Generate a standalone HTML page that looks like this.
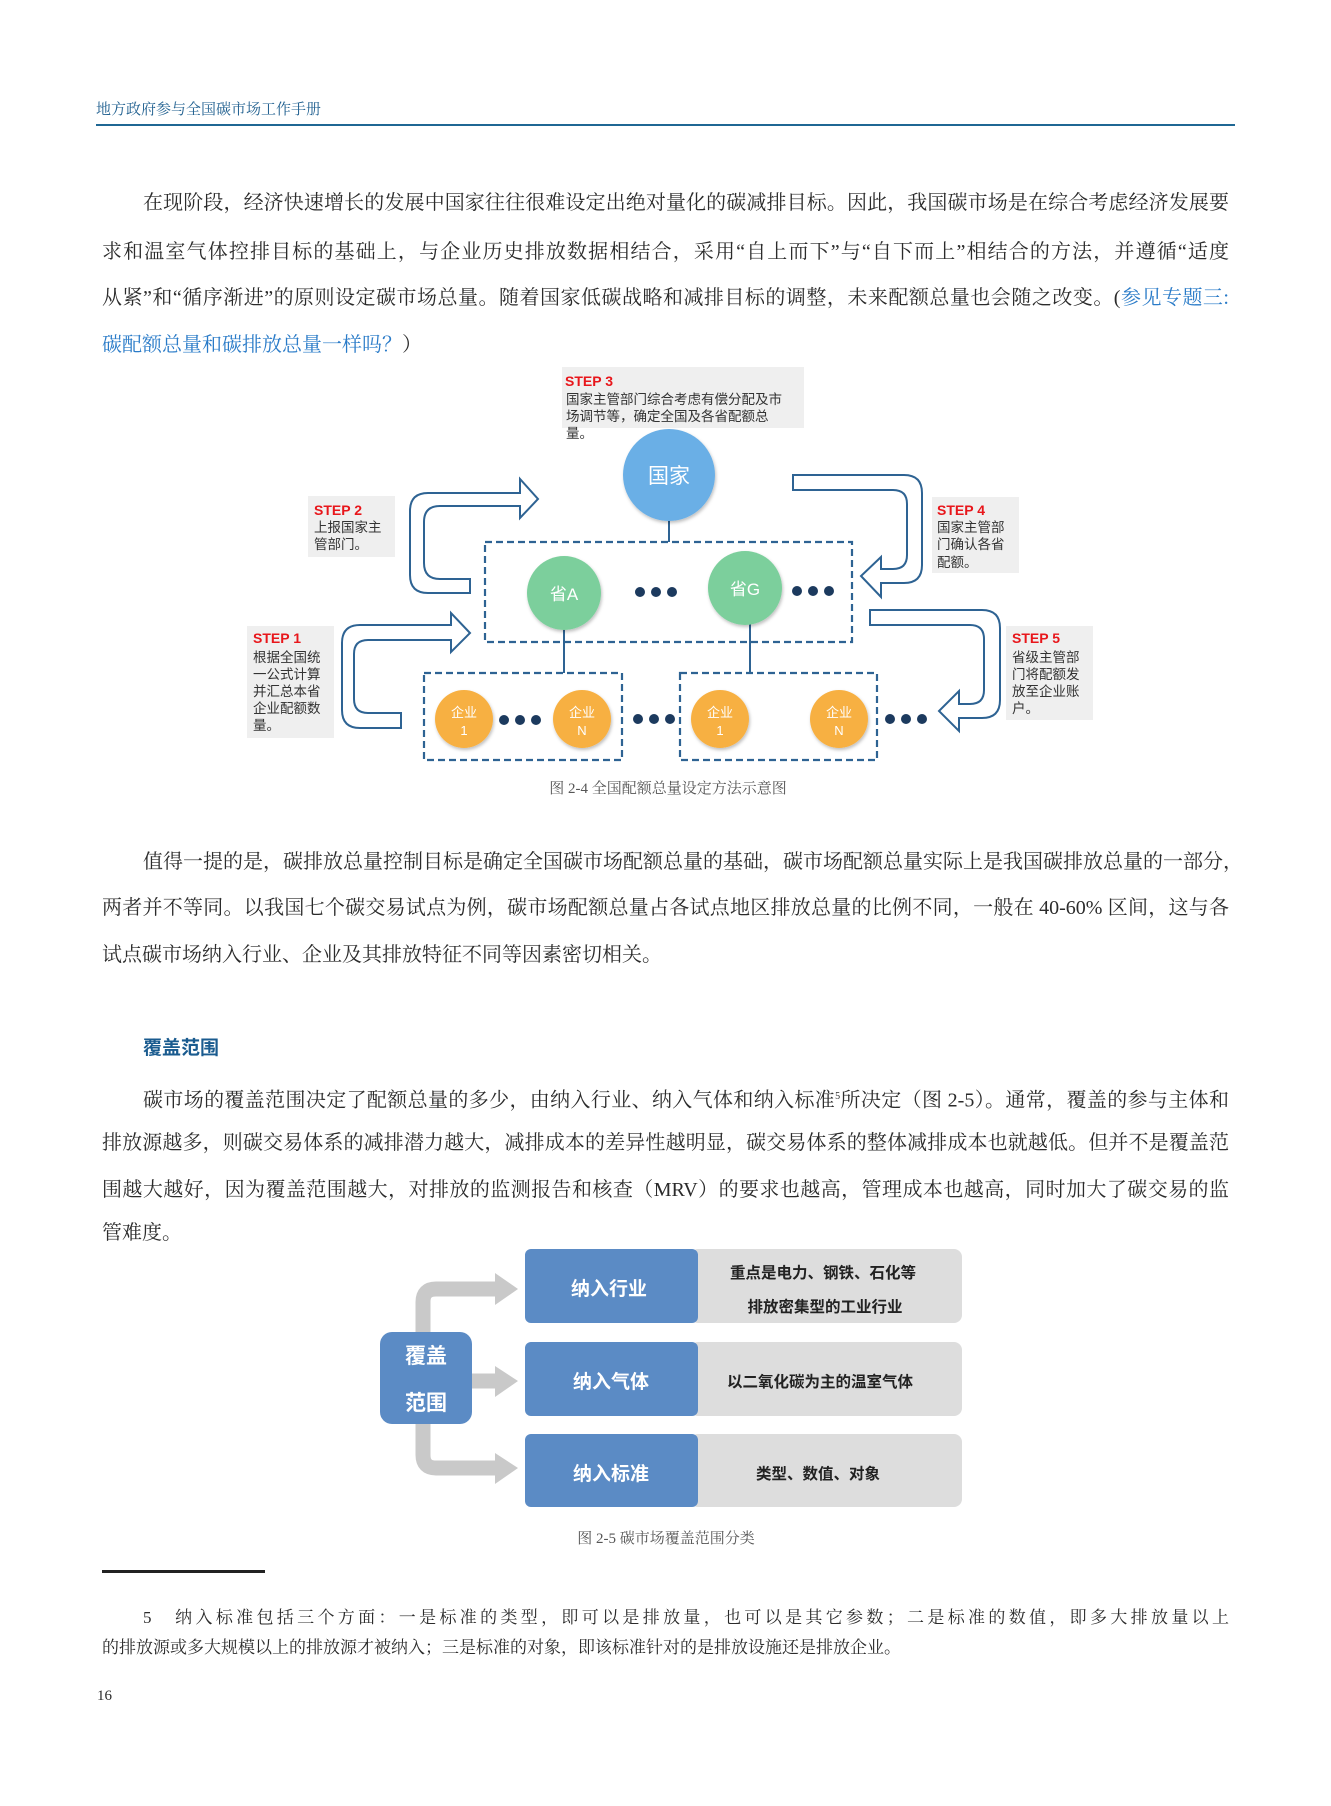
<!DOCTYPE html>
<html><head><meta charset="utf-8">
<style>
html,body{margin:0;padding:0;background:#fff;}
body{width:1331px;height:1806px;position:relative;overflow:hidden;font-family:"Liberation Serif","Noto Serif CJK SC",serif;color:#2b2b2b;}
.l{position:absolute;font-size:20px;line-height:30px;height:30px;text-align:justify;text-align-last:justify;white-space:nowrap;}
.n{text-align:left;text-align-last:left;}
.b{color:#2a7bc8;}
.f{position:absolute;font-size:17px;line-height:26px;height:26px;text-align:justify;text-align-last:justify;white-space:nowrap;}
svg{position:absolute;left:0;top:0;}
</style></head><body>
<div style="position:absolute;left:96px;top:99px;font-size:15px;line-height:22px;color:#1f5f8f;">地方政府参与全国碳市场工作手册</div>
<div style="position:absolute;left:96px;top:124px;width:1139px;height:2px;background:#1f6794;"></div>

<div class="l" style="left:143px;width:1086px;top:188px;">在现阶段，经济快速增长的发展中国家往往很难设定出绝对量化的碳减排目标。因此，我国碳市场是在综合考虑经济发展要</div>
<div class="l" style="left:102px;width:1127px;top:237px;">求和温室气体控排目标的基础上，与企业历史排放数据相结合，采用“自上而下”与“自下而上”相结合的方法，并遵循“适度</div>
<div class="l" style="left:102px;width:1127px;top:283px;">从紧”和“循序渐进”的原则设定碳市场总量。随着国家低碳战略和减排目标的调整，未来配额总量也会随之改变。(<span class="b">参见专题三:</span></div>
<div class="l n" style="left:102px;top:330px;"><span class="b">碳配额总量和碳排放总量一样吗？</span>）</div>

<div class="l" style="left:143px;width:1086px;top:847px;">值得一提的是，碳排放总量控制目标是确定全国碳市场配额总量的基础，碳市场配额总量实际上是我国碳排放总量的一部分，</div>
<div class="l" style="left:102px;width:1127px;top:893px;">两者并不等同。以我国七个碳交易试点为例，碳市场配额总量占各试点地区排放总量的比例不同，一般在 40-60% 区间，这与各</div>
<div class="l n" style="left:102px;top:940px;">试点碳市场纳入行业、企业及其排放特征不同等因素密切相关。</div>

<div style="position:absolute;left:143px;top:1036px;font-size:19px;line-height:26px;font-weight:bold;color:#1a5b8f;font-family:'Liberation Sans','Noto Sans CJK SC',sans-serif;">覆盖范围</div>

<div class="l" style="left:143px;width:1086px;top:1082px;">碳市场的覆盖范围决定了配额总量的多少，由纳入行业、纳入气体和纳入标准<sup style="font-size:10px;">5</sup>所决定（图 2-5）。通常，覆盖的参与主体和</div>
<div class="l" style="left:102px;width:1127px;top:1128px;">排放源越多，则碳交易体系的减排潜力越大，减排成本的差异性越明显，碳交易体系的整体减排成本也就越低。但并不是覆盖范</div>
<div class="l" style="left:102px;width:1127px;top:1175px;">围越大越好，因为覆盖范围越大，对排放的监测报告和核查（MRV）的要求也越高，管理成本也越高，同时加大了碳交易的监</div>
<div class="l n" style="left:102px;top:1218px;">管难度。</div>

<div style="position:absolute;left:102px;top:1570px;width:163px;height:3px;background:#222;"></div>
<div class="f" style="left:143px;width:1086px;top:1605px;">5　纳入标准包括三个方面：一是标准的类型，即可以是排放量，也可以是其它参数；二是标准的数值，即多大排放量以上</div>
<div class="f n" style="left:102px;top:1635px;">的排放源或多大规模以上的排放源才被纳入；三是标准的对象，即该标准针对的是排放设施还是排放企业。</div>
<div style="position:absolute;left:97px;top:1686px;font-size:15px;line-height:20px;">16</div>

<svg width="1331" height="1806" viewBox="0 0 1331 1806" font-family="'Liberation Sans','Noto Sans CJK SC',sans-serif">
<defs><filter id="sh" x="-20%" y="-20%" width="140%" height="140%"><feDropShadow dx="1" dy="2" stdDeviation="1.5" flood-color="#000" flood-opacity="0.25"/></filter></defs>
<rect x="562" y="367" width="242" height="61" fill="#efefef"/>
<rect x="308" y="496" width="87" height="61" fill="#efefef"/>
<rect x="932" y="497" width="87" height="76" fill="#efefef"/>
<rect x="247" y="626" width="87" height="112" fill="#efefef"/>
<rect x="1006" y="626" width="87" height="94" fill="#efefef"/>
<g font-size="14" fill="#e8161b" font-weight="bold">
<text x="565" y="386">STEP 3</text><text x="314" y="515">STEP 2</text><text x="937" y="515">STEP 4</text><text x="253" y="643">STEP 1</text><text x="1012" y="643">STEP 5</text>
</g>
<g font-size="13.5" fill="#333">
<text x="566" y="404">国家主管部门综合考虑有偿分配及市</text>
<text x="566" y="421">场调节等，确定全国及各省配额总</text>
<text x="566" y="438">量。</text>
<text x="314" y="532">上报国家主</text><text x="314" y="549">管部门。</text>
<text x="937" y="532">国家主管部</text><text x="937" y="549">门确认各省</text><text x="937" y="567">配额。</text>
<text x="253" y="662">根据全国统</text><text x="253" y="679">一公式计算</text><text x="253" y="696">并汇总本省</text><text x="253" y="713">企业配额数</text><text x="253" y="730">量。</text>
<text x="1012" y="662">省级主管部</text><text x="1012" y="679">门将配额发</text><text x="1012" y="696">放至企业账</text><text x="1012" y="713">户。</text>
</g>
<g stroke="#2e6393" stroke-width="2" fill="none">
<line x1="669" y1="520" x2="669" y2="542"/>
<line x1="564" y1="628" x2="564" y2="673"/>
<line x1="750" y1="622" x2="750" y2="673"/>
</g>
<g stroke="#2e6393" stroke-width="2.2" fill="none" stroke-dasharray="7,4">
<rect x="485" y="542" width="367" height="100"/>
<rect x="424" y="673" width="198" height="87"/>
<rect x="680" y="673" width="197" height="87"/>
</g>
<g stroke="#2e6393" stroke-width="2" fill="#fff" stroke-linejoin="miter">
<path d="M470,593 L428,593 Q410,593 410,575 L410,511 Q410,493 428,493 L520,493 L520,479 L538,499 L520,518 L520,506 L440,506 Q424,506 424,522 L424,563 Q424,579 440,579 L470,579 Z"/>
<path d="M401,728 L360,728 Q342,728 342,710 L342,643 Q342,625 360,625 L451,625 L451,613 L470,633 L451,652 L451,640 L368,640 Q354,640 354,654 L354,699 Q354,713 368,713 L401,713 Z"/>
<path d="M793,475 L904,475 Q922,475 922,493 L922,565 Q922,583 904,583 L881,583 L881,597 L861,576 L881,557 L881,569 L893,569 Q907,569 907,555 L907,504 Q907,490 893,490 L793,490 Z"/>
<path d="M870,610 L982,610 Q1000,610 1000,628 L1000,700 Q1000,718 982,718 L959,718 L959,731 L939,711 L959,691 L959,704 L970,704 Q984,704 984,690 L984,639 Q984,625 970,625 L870,625 Z"/>
</g>
<g filter="url(#sh)">
<ellipse cx="669" cy="475" rx="46" ry="46" fill="#6aafe6"/>
<circle cx="564" cy="593" r="37" fill="#7ccf9c"/>
<circle cx="745" cy="588" r="37" fill="#7ccf9c"/>
<circle cx="464" cy="719" r="29" fill="#f7b043"/>
<circle cx="582" cy="719" r="29" fill="#f7b043"/>
<circle cx="720" cy="719" r="29" fill="#f7b043"/>
<circle cx="839" cy="719" r="29" fill="#f7b043"/>
</g>
<g fill="#fff" text-anchor="middle">
<text x="669" y="483" font-size="21">国家</text>
<text x="564" y="600" font-size="17">省A</text>
<text x="745" y="595" font-size="17">省G</text>
<g font-size="13"><text x="464" y="717">企业</text><text x="464" y="735">1</text>
<text x="582" y="717">企业</text><text x="582" y="735">N</text>
<text x="720" y="717">企业</text><text x="720" y="735">1</text>
<text x="839" y="717">企业</text><text x="839" y="735">N</text></g>
</g>
<g fill="#1c3a5e">
<circle cx="640" cy="592" r="5"/><circle cx="656" cy="592" r="5"/><circle cx="672" cy="592" r="5"/>
<circle cx="797" cy="591" r="5"/><circle cx="813" cy="591" r="5"/><circle cx="829" cy="591" r="5"/>
<circle cx="504" cy="720" r="5"/><circle cx="520" cy="720" r="5"/><circle cx="536" cy="720" r="5"/>
<circle cx="638" cy="719" r="5"/><circle cx="654" cy="719" r="5"/><circle cx="670" cy="719" r="5"/>
<circle cx="890" cy="719" r="5"/><circle cx="906" cy="719" r="5"/><circle cx="922" cy="719" r="5"/>
</g>
<text x="668" y="793" font-size="15" fill="#555" text-anchor="middle" font-family="'Liberation Serif','Noto Serif CJK SC',serif">图 2-4 全国配额总量设定方法示意图</text>

<g stroke="#c9c9c9" stroke-width="15" fill="none">
<path d="M496,1289 L436,1289 Q423,1289 423,1302 L423,1455 Q423,1468 436,1468 L496,1468"/>
<line x1="470" y1="1381" x2="496" y2="1381"/>
</g>
<g fill="#c9c9c9">
<polygon points="495,1273 518,1289 495,1305"/>
<polygon points="495,1366 518,1381 495,1397"/>
<polygon points="495,1453 518,1468 495,1484"/>
</g>
<rect x="380" y="1332" width="92" height="92" rx="12" fill="#5b8bc5"/>
<g fill="#dddddd">
<rect x="690" y="1249" width="272" height="74" rx="8"/>
<rect x="690" y="1342" width="272" height="74" rx="8"/>
<rect x="690" y="1434" width="272" height="73" rx="8"/>
</g>
<g fill="#5b8bc5">
<rect x="525" y="1249" width="173" height="74" rx="6"/>
<rect x="525" y="1342" width="173" height="74" rx="6"/>
<rect x="525" y="1434" width="173" height="73" rx="6"/>
</g>
<g fill="#fff" font-weight="bold" text-anchor="middle">
<text x="426" y="1363" font-size="21">覆盖</text>
<text x="426" y="1410" font-size="21">范围</text>
<text x="609" y="1295" font-size="19">纳入行业</text>
<text x="611" y="1388" font-size="19">纳入气体</text>
<text x="611" y="1480" font-size="19">纳入标准</text>
</g>
<g fill="#222" font-weight="bold" text-anchor="middle" font-size="15.5">
<text x="823" y="1278">重点是电力、钢铁、石化等</text>
<text x="825" y="1312">排放密集型的工业行业</text>
<text x="820" y="1387">以二氧化碳为主的温室气体</text>
<text x="818" y="1479">类型、数值、对象</text>
</g>
<text x="666" y="1543" font-size="15" fill="#555" text-anchor="middle" font-family="'Liberation Serif','Noto Serif CJK SC',serif">图 2-5 碳市场覆盖范围分类</text>
</svg>
</body></html>
